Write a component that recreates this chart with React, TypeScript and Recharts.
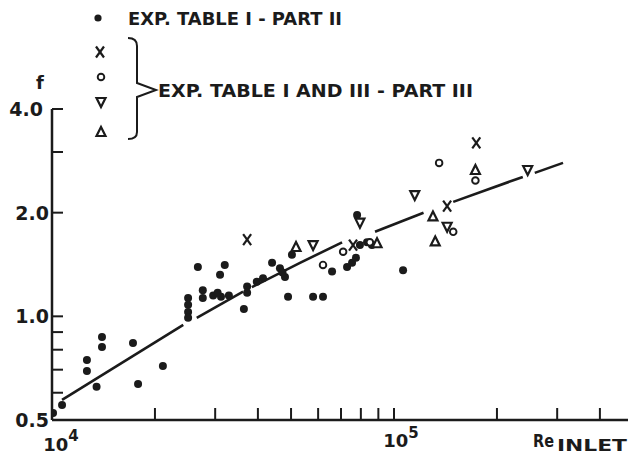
import { ScatterChart, Scatter, XAxis, YAxis, Customized } from 'recharts';

// Re (inlet) and friction factor f
const partTwoRe = [
  10070, 10700, 12650, 12650, 13500, 14000, 14000, 17250, 17850, 21100,
  25000, 25000, 25000, 25000, 26700, 32000, 31000, 27600, 27600, 29600,
  31200, 32900, 30500, 37200, 37200, 36400, 39700, 41400, 44000, 46400,
  48000, 47200, 50300, 49000, 58000, 62000, 65900, 72900, 75400, 77400,
  78000, 79500, 83400, 86200, 106300,
];
const partTwoF = [
  0.524, 0.553, 0.747, 0.694, 0.624, 0.871, 0.815, 0.837, 0.636, 0.718,
  1.13, 1.08, 1.03, 0.99, 1.39, 1.41, 1.32, 1.19, 1.13, 1.15,
  1.14, 1.15, 1.17, 1.22, 1.17, 1.05, 1.26, 1.29, 1.43, 1.38,
  1.3, 1.34, 1.51, 1.14, 1.14, 1.14, 1.35, 1.39, 1.43, 1.48,
  1.97, 1.61, 1.64, 1.61, 1.36,
];

const crossRe = [37200, 75900, 143000, 174000];
const crossF = [1.67, 1.61, 2.09, 3.19];

const circleRe = [62000, 71000, 85000, 149000, 135500, 173000];
const circleF = [1.41, 1.54, 1.64, 1.76, 2.79, 2.48];

const downTriRe = [58000, 79500, 115000, 143000, 246000];
const downTriF = [1.61, 1.87, 2.25, 1.82, 2.66];

const upTriRe = [51700, 89200, 130000, 132000, 173000];
const upTriF = [1.59, 1.63, 1.95, 1.65, 2.66];

// correlation curve, drawn in broken pieces as in the original
const fitRe1 = [10700, 24200];
const fitF1 = [0.572, 0.944];
const fitRe2 = [26500, 36200];
const fitF2 = [0.99, 1.18];
const fitRe3 = [38400, 53100, 70500];
const fitF3 = [1.215, 1.43, 1.64];
const fitRe4 = [88000, 122000];
const fitF4 = [1.76, 2.0];
const fitRe5 = [149000, 238000];
const fitF5 = [2.15, 2.54];
const fitRe6 = [258000, 312000];
const fitF6 = [2.61, 2.79];

const xTicks = [10000, 20000, 30000, 40000, 50000, 60000, 70000, 80000, 90000, 100000, 200000, 300000, 400000];
const yTicks = [0.5, 0.6, 0.7, 0.8, 0.9, 1.0, 2.0, 3.0, 4.0];
const yLabels: Record<number, string> = { 0.5: '0.5', 1: '1.0', 2: '2.0', 4: '4.0' };

const INK = '#1b1b1b';
const FONT = '"DejaVu Sans", sans-serif';

const toPoints = (re: number[], f: number[]) => re.map((r, i) => ({ re: r, f: f[i] }));

const Dot = ({ cx, cy }: any) => <circle cx={cx} cy={cy} r={4} fill={INK} />;
const OpenCircle = ({ cx, cy }: any) => (
  <circle cx={cx} cy={cy} r={3.3} fill="#fff" stroke={INK} strokeWidth={1.9} />
);
const Cross = ({ cx, cy }: any) => (
  <g stroke={INK} strokeWidth={2.2}>
    <line x1={cx - 4} y1={cy - 5.5} x2={cx + 4} y2={cy + 5.5} />
    <line x1={cx + 4} y1={cy - 5.5} x2={cx - 4} y2={cy + 5.5} />
  </g>
);
const DownTri = ({ cx, cy }: any) => (
  <polygon
    points={`${cx - 4.5},${cy - 4} ${cx + 4.5},${cy - 4} ${cx},${cy + 5}`}
    fill="#fff"
    stroke={INK}
    strokeWidth={2.2}
  />
);
const UpTri = ({ cx, cy }: any) => (
  <polygon
    points={`${cx - 4.5},${cy + 4} ${cx + 4.5},${cy + 4} ${cx},${cy - 5}`}
    fill="#fff"
    stroke={INK}
    strokeWidth={2.2}
  />
);
const NoMark = () => <g />;

const XTick = ({ x, y, payload }: any) => {
  const v = payload.value;
  return (
    <g>
      {v !== 10000 && <line x1={x} y1={y} x2={x} y2={y - 12} stroke={INK} strokeWidth={2} />}
      {v === 10000 && (
        <text x={x + 9} y={y + 31} textAnchor="middle" fontFamily={FONT} fontSize={18} fontWeight={600} fill={INK}>
          10<tspan dy={-10} fontSize={15}>4</tspan>
        </text>
      )}
      {v === 100000 && (
        <text x={x + 7} y={y + 27} textAnchor="middle" fontFamily={FONT} fontSize={18} fontWeight={600} fill={INK}>
          10<tspan dy={-9} fontSize={15}>5</tspan>
        </text>
      )}
    </g>
  );
};

const YTick = ({ x, y, payload }: any) => {
  const v = payload.value;
  const label = yLabels[v];
  return (
    <g>
      {v !== 0.5 && <line x1={x} y1={y} x2={x + 11} y2={y} stroke={INK} strokeWidth={2} />}
      {label && (
        <text
          x={v === 4 ? x - 9 : x - 3}
          y={y + 7}
          textAnchor="end"
          fontFamily={FONT}
          fontSize={19}
          fontWeight={600}
          fill={INK}
        >
          {label}
        </text>
      )}
    </g>
  );
};

const Annotations = () => (
  <g fill={INK} fontFamily={FONT} fontWeight={600}>
    <text x={40} y={89} fontSize={18} textAnchor="middle">f</text>
    <text x={533} y={447} fontSize={17} textLength={21} lengthAdjust="spacingAndGlyphs">Re</text>
    <text x={557} y={451} fontSize={16} textLength={70} lengthAdjust="spacingAndGlyphs">INLET</text>

    <circle cx={98} cy={18} r={3.6} fill={INK} />
    <text x={128} y={25} fontSize={18} textLength={214} lengthAdjust="spacingAndGlyphs">
      EXP. TABLE I - PART II
    </text>

    <Cross cx={100} cy={52} />
    <OpenCircle cx={101} cy={77} />
    <DownTri cx={101} cy={102} />
    <UpTri cx={101} cy={132} />

    <path
      d="M128 38 Q137 38 137 46 L137 83 L156 90 L137 97 L137 132 Q137 139 128 139"
      fill="none"
      stroke={INK}
      strokeWidth={2}
    />
    <text x={158} y={97} fontSize={18} textLength={315} lengthAdjust="spacingAndGlyphs">
      EXP. TABLE  I AND III - PART III
    </text>
  </g>
);

export default function App() {
  const fitLine = { stroke: INK, strokeWidth: 2.6 };
  return (
    <div style={{ position: 'absolute', left: 0, top: 0, width: 628, height: 457, background: '#fff' }}>
      <ScatterChart width={628} height={457} margin={{ top: 109, right: 0, bottom: 7, left: 0 }}>
        <XAxis
          dataKey="re"
          type="number"
          scale="log"
          domain={[10000, 483300]}
          allowDataOverflow
          ticks={xTicks}
          interval={0}
          height={30}
          tickSize={0}
          tickMargin={0}
          tickLine={false}
          axisLine={{ stroke: INK, strokeWidth: 2.5 }}
          tick={<XTick />}
        />
        <YAxis
          dataKey="f"
          type="number"
          scale="log"
          domain={[0.5, 4.0]}
          allowDataOverflow
          ticks={yTicks}
          interval={0}
          width={52}
          tickSize={0}
          tickMargin={0}
          tickLine={false}
          axisLine={{ stroke: INK, strokeWidth: 2.5 }}
          tick={<YTick />}
        />

        <Scatter data={toPoints(fitRe1, fitF1)} line={fitLine} shape={<NoMark />} isAnimationActive={false} />
        <Scatter data={toPoints(fitRe2, fitF2)} line={fitLine} shape={<NoMark />} isAnimationActive={false} />
        <Scatter data={toPoints(fitRe3, fitF3)} line={fitLine} shape={<NoMark />} isAnimationActive={false} />
        <Scatter data={toPoints(fitRe4, fitF4)} line={fitLine} shape={<NoMark />} isAnimationActive={false} />
        <Scatter data={toPoints(fitRe5, fitF5)} line={fitLine} shape={<NoMark />} isAnimationActive={false} />
        <Scatter data={toPoints(fitRe6, fitF6)} line={fitLine} shape={<NoMark />} isAnimationActive={false} />

        <Scatter data={toPoints(partTwoRe, partTwoF)} shape={<Dot />} isAnimationActive={false} />
        <Scatter data={toPoints(crossRe, crossF)} shape={<Cross />} isAnimationActive={false} />
        <Scatter data={toPoints(circleRe, circleF)} shape={<OpenCircle />} isAnimationActive={false} />
        <Scatter data={toPoints(downTriRe, downTriF)} shape={<DownTri />} isAnimationActive={false} />
        <Scatter data={toPoints(upTriRe, upTriF)} shape={<UpTri />} isAnimationActive={false} />

        <Customized component={<Annotations />} />
      </ScatterChart>
    </div>
  );
}
